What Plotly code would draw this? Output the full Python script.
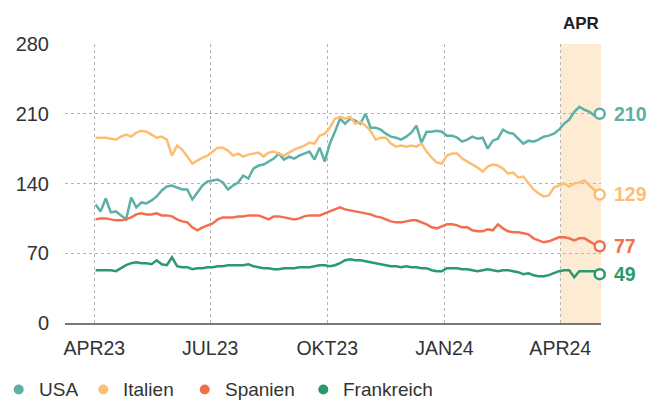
import pandas as pd
import plotly.graph_objects as go

# ---- data ----
dates = pd.date_range("2023-04-02", periods=100, freq="4D")

usa = [119, 112, 125, 111, 112, 108, 104, 126, 116, 121, 120, 123, 127, 133, 137, 138, 136, 134, 134, 124,
       131, 138, 142, 143, 144, 141, 134, 138, 141, 148, 145, 155, 158, 159, 162, 165, 170, 164, 167, 165,
       168, 170, 172, 164, 176, 162, 180, 192, 205, 200, 205, 203, 200, 210, 196, 196, 194, 190, 187, 186,
       184, 187, 191, 198, 181, 192, 192, 193, 192, 188, 188, 186, 182, 184, 187, 185, 186, 175, 183, 185,
       194, 191, 190, 185, 180, 183, 182, 184, 187, 188, 190, 194, 200, 204, 212, 217, 214, 212, 208, 210]

italien = [186, 186, 186, 185, 184, 187, 189, 187, 191, 193, 192, 189, 186, 187, 184, 168, 178, 174, 167, 160,
           163, 166, 168, 172, 176, 176, 173, 168, 170, 167, 169, 170, 171, 167, 171, 172, 170, 168, 171, 174,
           176, 178, 181, 180, 188, 190, 196, 205, 207, 205, 207, 200, 202, 198, 193, 184, 186, 186, 180, 177,
           178, 177, 178, 177, 180, 172, 166, 161, 160, 168, 170, 170, 165, 162, 159, 156, 152, 157, 159, 158,
           155, 150, 151, 146, 147, 140, 134, 130, 127, 128, 136, 138, 140, 137, 140, 141, 143, 138, 133, 129]

spanien = [104, 105, 105, 104, 103, 103, 104, 106, 109, 110, 109, 109, 110, 108, 108, 107, 104, 102, 101, 96,
           93, 96, 98, 100, 104, 106, 106, 106, 107, 107, 108, 108, 108, 106, 104, 107, 107, 106, 105, 104,
           105, 107, 108, 108, 108, 110, 112, 114, 116, 114, 113, 112, 111, 110, 109, 107, 106, 104, 102, 101,
           101, 102, 103, 103, 101, 99, 96, 95, 97, 99, 99, 98, 96, 96, 93, 92, 92, 94, 93, 99,
           95, 92, 91, 91, 90, 89, 85, 83, 81, 82, 84, 86, 86, 85, 83, 85, 85, 82, 79, 77]

frankreich = [53, 53, 53, 53, 52, 55, 58, 60, 61, 60, 60, 59, 63, 59, 58, 66, 57, 56, 56, 54,
              55, 55, 56, 56, 57, 57, 58, 58, 58, 58, 59, 57, 56, 55, 55, 54, 54, 55, 55, 55,
              56, 56, 56, 57, 58, 58, 57, 58, 60, 63, 64, 63, 63, 62, 61, 60, 59, 58, 57, 57,
              56, 57, 56, 56, 55, 55, 53, 52, 52, 55, 55, 55, 54, 54, 53, 52, 53, 54, 53, 52,
              53, 53, 52, 51, 49, 50, 48, 47, 47, 48, 50, 52, 53, 53, 46, 52, 52, 52, 52, 49]

series_names = ["USA", "Italien", "Spanien", "Frankreich"]
series_values = [usa, italien, spanien, frankreich]
colors = ["#5cb0a6", "#fdbe74", "#f36f4c", "#2a9a6c"]
end_labels = ["210", "129", "77", "49"]

y_ticks = [0, 70, 140, 210, 280]
x_tick_dates = ["2023-04-01", "2023-07-01", "2023-10-01", "2024-01-01", "2024-04-01"]
x_tick_labels = ["APR23", "JUL23", "OKT23", "JAN24", "APR24"]
x_range = ["2023-03-09", "2024-05-03"]
highlight = ["2024-04-01", "2024-05-03"]
highlight_label = "APR"

FONT = "Liberation Sans, Arial, sans-serif"
TXT = "#333333"

# the page body adds an 8px margin, so the figure is sized to fit the window exactly
W, H = 661, 393
ML, MR, MT, MB = 57, 68, 36, 78
PW, PH = W - ML - MR, H - MT - MB

fig = go.Figure()

# highlight band
fig.add_shape(type="rect", xref="x", yref="paper", x0=highlight[0], x1=highlight[1], y0=0, y1=1,
              fillcolor="#fdebd4", line_width=0, layer="below")

for name, vals, c in zip(series_names, series_values, colors):
    fig.add_trace(go.Scatter(x=dates, y=vals, mode="lines", line=dict(color=c, width=2.5),
                             name=name, showlegend=False, hoverinfo="skip"))

for name, vals, c, lab in zip(series_names, series_values, colors, end_labels):
    fig.add_trace(go.Scatter(x=[dates[-1]], y=[vals[-1]], mode="markers",
                             marker=dict(size=10, color="white", line=dict(color=c, width=2.5)),
                             showlegend=False, cliponaxis=False, hoverinfo="skip"))
    fig.add_annotation(x=dates[-1], y=vals[-1], text=f"<b>{lab}</b>", showarrow=False,
                       xanchor="left", yanchor="middle", xshift=12,
                       font=dict(family=FONT, size=19.5, color=c))

# legend (drawn below the plot: dot + label per series)
legend_dot_px = [10.7, 95.3, 196.7, 315.3]
legend_y_px = 381.5
for name, c, px in zip(series_names, colors, legend_dot_px):
    fx = (px - ML) / PW
    fy = (H - MB - legend_y_px) / PH
    fig.add_shape(type="circle", xref="paper", yref="paper", xsizemode="pixel", ysizemode="pixel",
                  xanchor=fx, yanchor=fy, x0=-5, x1=5, y0=-5, y1=5,
                  fillcolor=c, line_width=0)
    fig.add_annotation(x=fx, y=fy, xref="paper", yref="paper", xanchor="left", yanchor="middle",
                       xshift=18, showarrow=False, text=name,
                       font=dict(family=FONT, size=19, color=TXT))

fig.add_annotation(x=pd.Timestamp(highlight[0]) + (pd.Timestamp(highlight[1]) - pd.Timestamp(highlight[0])) / 2,
                   y=1, xref="x", yref="paper", yanchor="bottom", yshift=9, showarrow=False,
                   text=f"<b>{highlight_label}</b>", font=dict(family=FONT, size=17, color="#222222"))

fig.update_layout(
    width=W, height=H,
    margin=dict(l=ML, r=MR, t=MT, b=MB, autoexpand=False),
    plot_bgcolor="white", paper_bgcolor="white",
    showlegend=False,
    font=dict(family=FONT, color=TXT),
)

fig.update_xaxes(range=x_range, tickmode="array", tickvals=x_tick_dates, ticktext=x_tick_labels,
                 showgrid=True, gridcolor="#b5b5b5", griddash="dot", gridwidth=1,
                 showline=True, linecolor="#777777", linewidth=1.5,
                 ticks="", tickfont=dict(family=FONT, size=19.5, color=TXT),
                 ticklabelstandoff=7, zeroline=False)
fig.update_yaxes(range=[0, 280], tickmode="array", tickvals=y_ticks,
                 showgrid=True, gridcolor="#b5b5b5", griddash="dot", gridwidth=1,
                 zeroline=False, showline=False, ticks="",
                 tickfont=dict(family=FONT, size=20, color=TXT), ticklabelstandoff=15)

fig.write_html("out.html")
